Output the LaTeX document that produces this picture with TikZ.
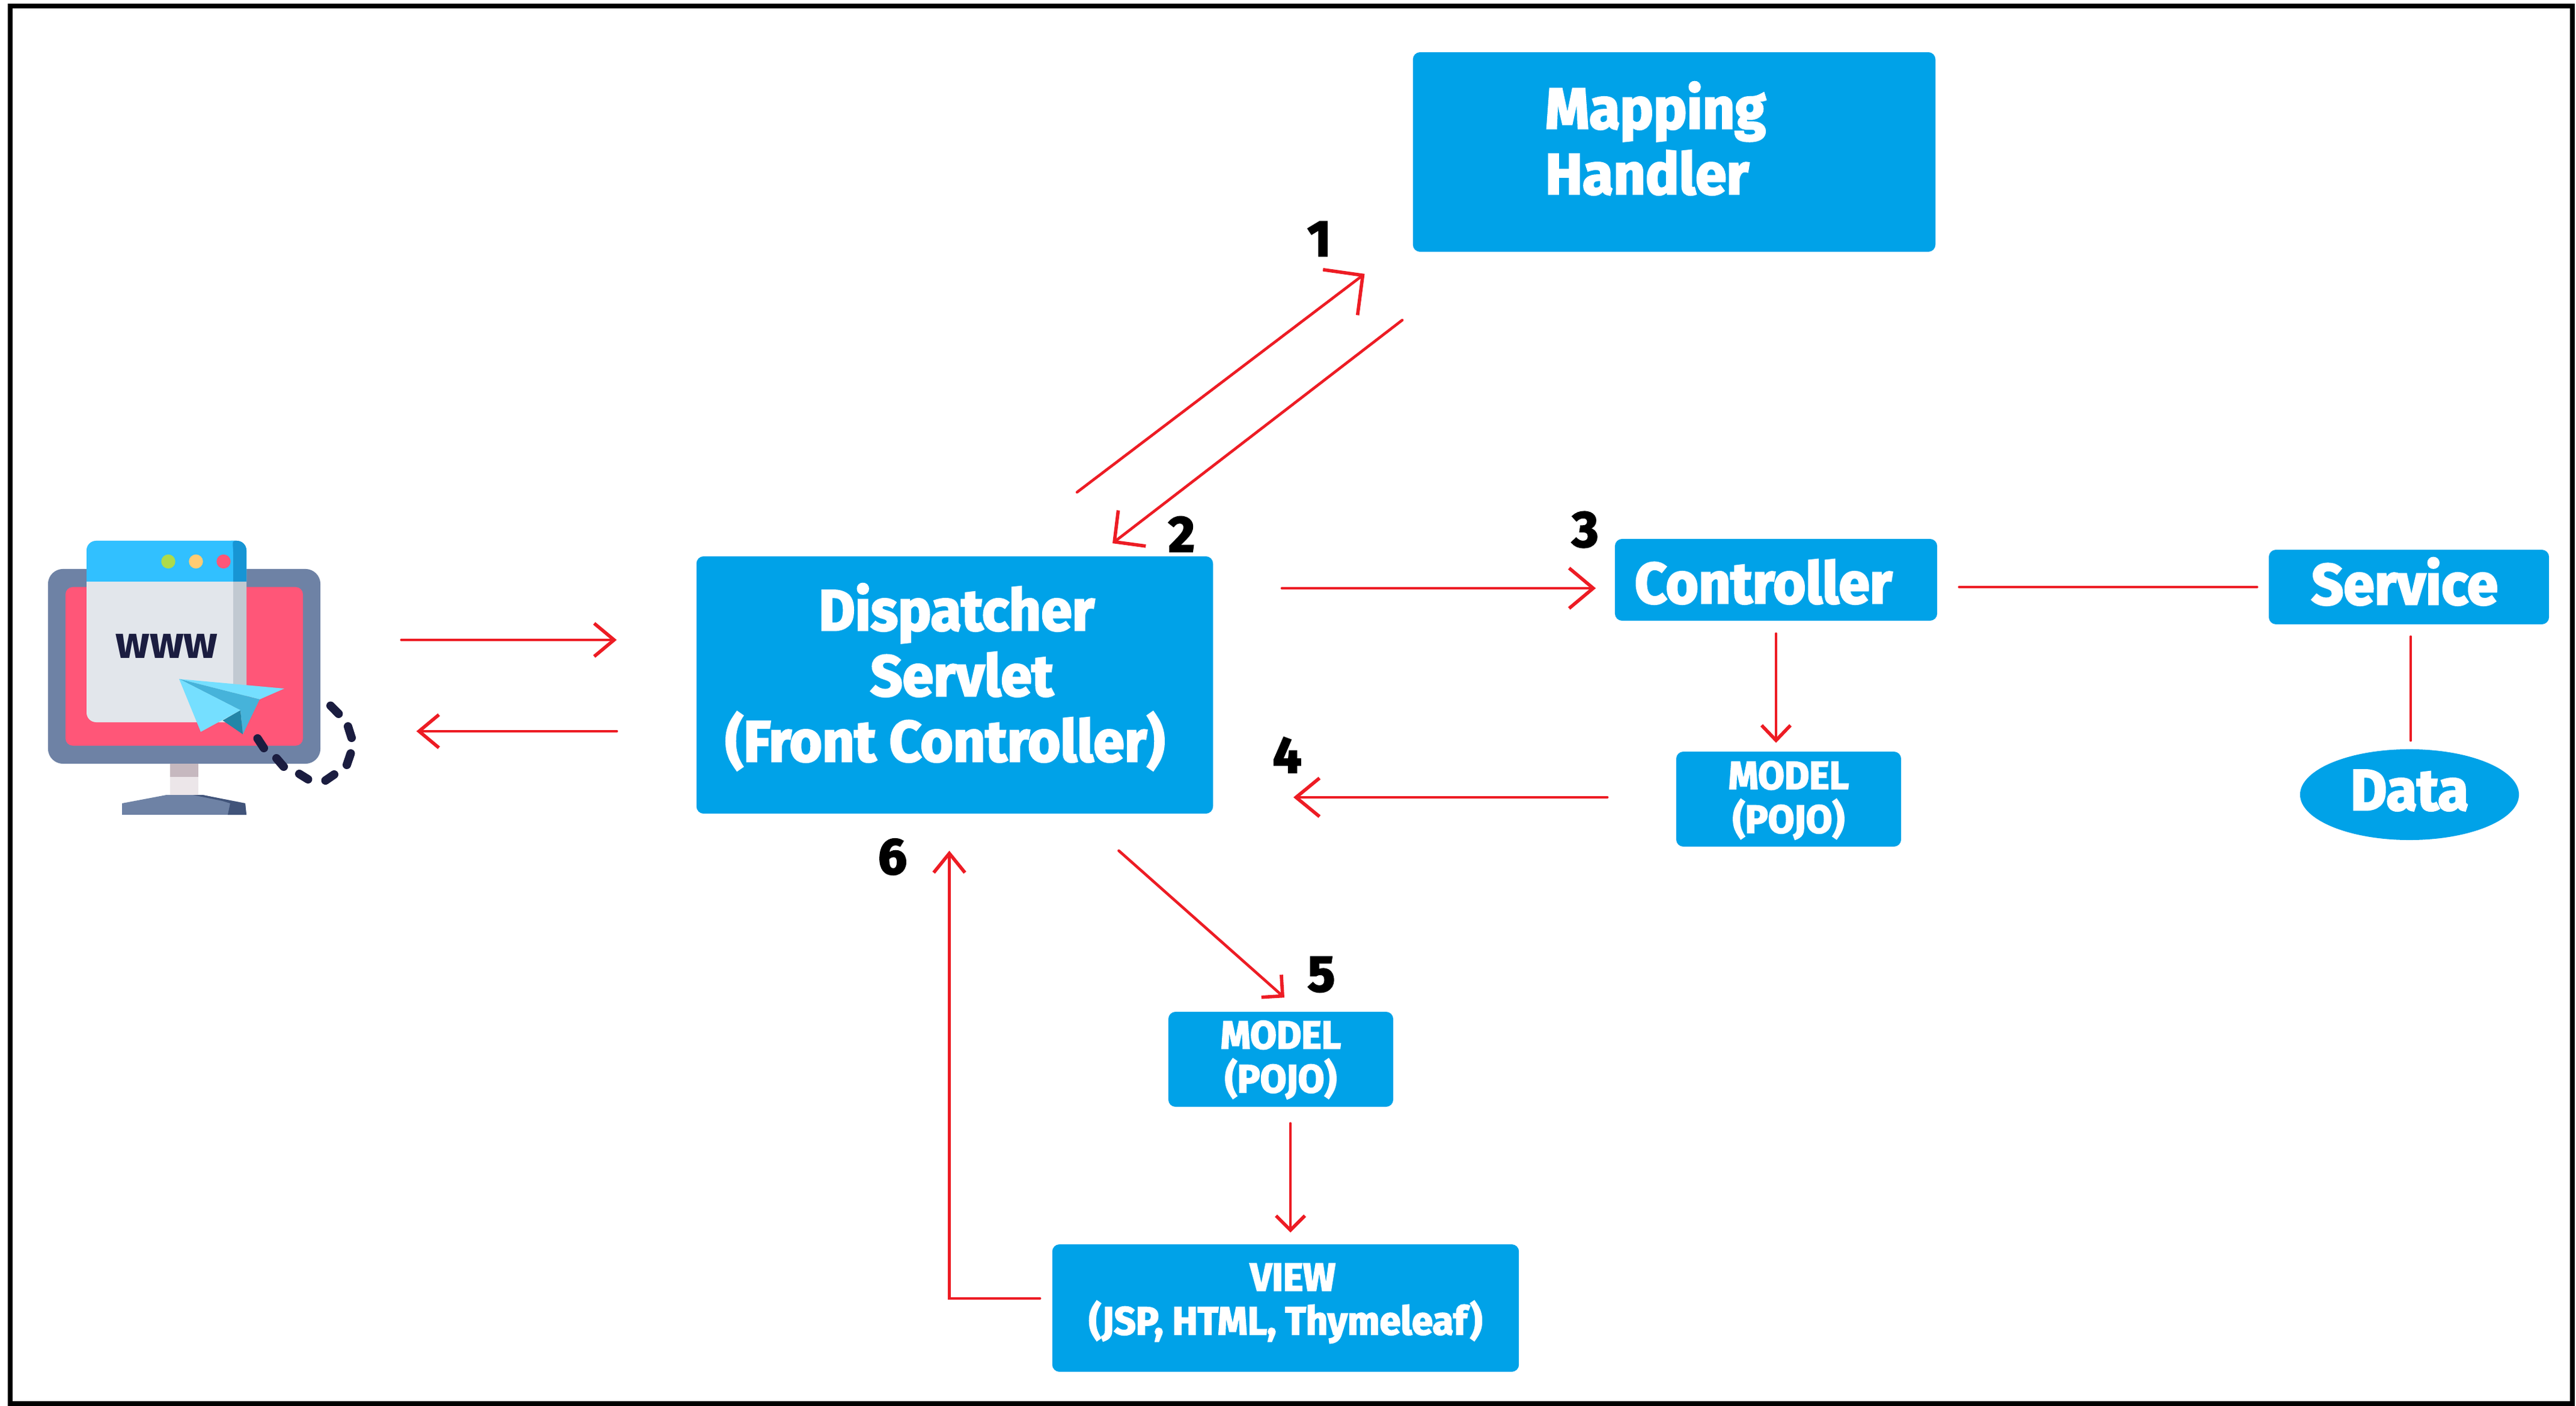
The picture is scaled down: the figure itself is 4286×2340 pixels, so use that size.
\documentclass[tikz,border=0pt]{standalone}
\usepackage{fontspec}
\usetikzlibrary{arrows.meta,shapes.geometric}
\newfontfamily\boxfont[FakeStretch=0.97,FakeBold=3]{Fira Sans Bold}
\newfontfamily\numfont[FakeBold=3]{Fira Sans Bold}
\newfontfamily\wwwfont{Fira Sans Bold}
\definecolor{boxBlue}{HTML}{00A2E8}
\definecolor{lineRed}{HTML}{ED1C24}
\definecolor{monBody}{HTML}{6E82A5}
\definecolor{monDark}{HTML}{41547A}
\definecolor{monPink}{HTML}{FF5678}
\definecolor{standTop}{HTML}{C6B8BF}
\definecolor{standLow}{HTML}{ECE6E9}
\definecolor{winBar}{HTML}{31C0FF}
\definecolor{winBarDark}{HTML}{1795D4}
\definecolor{winBody}{HTML}{E2E6EB}
\definecolor{winSide}{HTML}{C1C9D1}
\definecolor{dotGreen}{HTML}{AEDB4A}
\definecolor{dotYellow}{HTML}{FFCC73}
\definecolor{planeLight}{HTML}{75DFFF}
\definecolor{planeMid}{HTML}{46B3DA}
\definecolor{planeDark}{HTML}{2386A8}
\definecolor{inkDark}{HTML}{1B1D40}
\begin{document}
\begin{tikzpicture}[x=0.01cm,y=-0.01cm,
    bluebox/.style={fill=boxBlue, text=white, rounded corners=.12cm, inner sep=0pt, align=center},
    bigtext/.style={font=\boxfont\fontsize{27.3}{31}\selectfont},
    smalltext/.style={font=\boxfont\fontsize{18.6}{20.7}\selectfont},
    link/.style={draw=lineRed, line width=1.3pt, line cap=round},
    head/.style 2 args={-{Straight Barb[length=#1,width=#2,line width=1.6pt]}},
    stepnum/.style={font=\numfont\fontsize{24}{24}\selectfont, inner sep=0pt}]
    \useasboundingbox (0,0) rectangle (4286,2340);
    \draw[line width=2.3pt] (17,10) rectangle (4280,2336);

    %%the monitor on the left
    \node[fill=monBody, rounded corners=.25cm, inner sep=0pt, minimum width=4.53cm, minimum height=3.24cm] (monitor) at (306.5,1109) {};
    \fill[monPink, rounded corners=.12cm] (109,977) rectangle (504,1241);
    \fill[winBody, rounded corners=.16cm] (144,900) rectangle (410,1202);
    \fill[winSide] (388,968) rectangle (410,1180);
    \fill[winBar] (144,968) [rounded corners=.16cm] -- (144,900) -- (410,900) [sharp corners] -- (410,968) -- cycle;
    \fill[winBarDark] (388,968) -- (410,968) [rounded corners=.16cm] -- (410,900) -- (375,900) [sharp corners] .. controls (385,900) and (388,908) .. (388,918) -- cycle;
    \foreach \x/\c in {280/dotGreen, 326/dotYellow, 372/monPink}
    {
        \fill[\c] (\x,934.5) circle (.117cm);
    };
    \node[text=inkDark, inner sep=0pt, font=\wwwfont\fontsize{21.5}{21.5}\selectfont] (www) at (277.5,1075) {www};
    \fill[standTop] (283,1271) rectangle (330,1293);
    \fill[standLow] (283,1293) rectangle (330,1323);
    \fill[monBody] (277,1323) -- (337,1323) -- (408,1337) -- (410,1356) -- (203,1356) -- (203,1337) -- cycle;
    \fill[monDark] (321,1323) -- (337,1323) -- (408,1337) -- (410,1356) -- (379,1356) -- (383,1337) -- (370,1333) -- cycle;
    %%the paper plane and its dashed trail
    \fill[planeLight] (298,1130) -- (473,1146) -- (432,1164) -- cycle;
    \fill[planeMid] (298,1130) -- (432,1164) -- (404,1222) -- (400,1182) -- cycle;
    \fill[planeDark] (370.5,1199) -- (400,1182) -- (404,1222) -- cycle;
    \fill[planeLight] (298,1130) -- (400,1182) -- (334,1218) -- cycle;
    \foreach \xa/\ya/\xb/\yb in
    {550/1174.5/563.4/1188,
        579/1209/585/1228,
        583.5/1254/577/1273,
        556/1289/541.5/1299,
        512.5/1297/498/1288,
        472/1276/460/1262,
        439/1245/428.5/1229
    }
    {
        \draw[inkDark, line width=4pt, line cap=round] (\xa,\ya) -- (\xb,\yb);
    };

    %%the boxes
    \node[bluebox, bigtext, minimum width=8.69cm, minimum height=3.32cm, align=left, text height=1.4cm, text depth=0pt] (mapping) at (2785.5,253) {Mapping\hspace*{.62cm}\\Handler};
    \node[bluebox, bigtext, minimum width=8.59cm, minimum height=4.28cm, text height=2.54cm, text depth=0pt] (dispatcher) at (1588.5,1140) {\hspace*{.06cm}Dispatcher\\\hspace*{.24cm}Servlet\\(Front Controller)\hspace*{.32cm}};
    \node[bluebox, bigtext, minimum width=5.36cm, minimum height=1.36cm, text height=.78cm, text depth=0pt] (controller) at (2955,965) {Controller\hspace*{.42cm}};
    \node[bluebox, bigtext, minimum width=4.66cm, minimum height=1.24cm, text height=.58cm, text depth=0pt] (service) at (4008,977) {Service\hspace*{.14cm}};
    \node[bluebox, smalltext, minimum width=3.74cm, minimum height=1.58cm, text height=1.12cm, text depth=0pt] (modelA) at (2976,1330) {MODEL\\(POJO)};
    \node[bluebox, smalltext, minimum width=3.74cm, minimum height=1.58cm, text height=1.1cm, text depth=0pt] (modelB) at (2131,1763) {MODEL\\(POJO)};
    \node[bluebox, smalltext, minimum width=7.76cm, minimum height=2.12cm, text height=.88cm, text depth=0pt] (view) at (2139,2177) {\hspace*{.24cm}VIEW\\(JSP, HTML, Thymeleaf)};
    \node[ellipse, fill=boxBlue, text=white, inner sep=0pt, bigtext, minimum width=3.64cm, minimum height=1.51cm, text height=.51cm, text depth=0pt] (data) at (4009,1322.5) {Data};

    %%the numbers
    \foreach \n/\x/\y in {1/2195/397.5, 2/1966/889, 3/2637.5/881.5, 4/2141.5/1256.5, 5/2198.5/1622, 6/1485/1426}
    {
        \node[stepnum] (step\n) at (\x,\y) {\n};
    };

    %%the connectors
    \draw[link, head={.33cm}{.55cm}] ([shift={(134,-44)}]monitor.east) -- ([shift={(-132,-75)}]dispatcher.west);
    \draw[link, head={.33cm}{.55cm}] ([shift={(-132,77)}]dispatcher.west) -- ([shift={(159,108)}]monitor.east);
    \draw[link, head={.47cm}{.95cm}] ([shift={(203.5,-106)}]dispatcher.north) -- ([shift={(-79.5,36)}]mapping.south west);
    \draw[link, head={.37cm}{.75cm}] ([shift={(-17,113)}]mapping.south west) -- ([shift={(262.5,-21)}]dispatcher.north);
    \draw[link, head={.40cm}{.67cm}] ([shift={(114,-161)}]dispatcher.east) -- ([shift={(-31,14)}]controller.west);
    \draw[link] ([shift={(36,12)}]controller.east) -- ([shift={(-19,0)}]service.west);
    \draw[link, head={.25cm}{.48cm}] ([shift={(0,21)}]controller.south) -- ([shift={(-21,-14)}]modelA.north);
    \draw[link] ([shift={(3,20)}]service.south) -- ([shift={(2,-14)}]data.north);
    \draw[link, head={.39cm}{.64cm}] ([shift={(-114,-3)}]modelA.west) -- ([shift={(133,187)}]dispatcher.east);
    \draw[link, head={.25cm}{.50cm}] ([shift={(273,61)}]dispatcher.south) -- ([shift={(6,-23)}]modelB.north);
    \draw[link, head={.24cm}{.48cm}] ([shift={(16,27)}]modelB.south) -- ([shift={(8,-19)}]view.north);
    \draw[link, head={.32cm}{.52cm}] ([shift={(-20,-16)}]view.west) -| ([shift={(-9,61)}]dispatcher.south);
\end{tikzpicture}
\end{document}
